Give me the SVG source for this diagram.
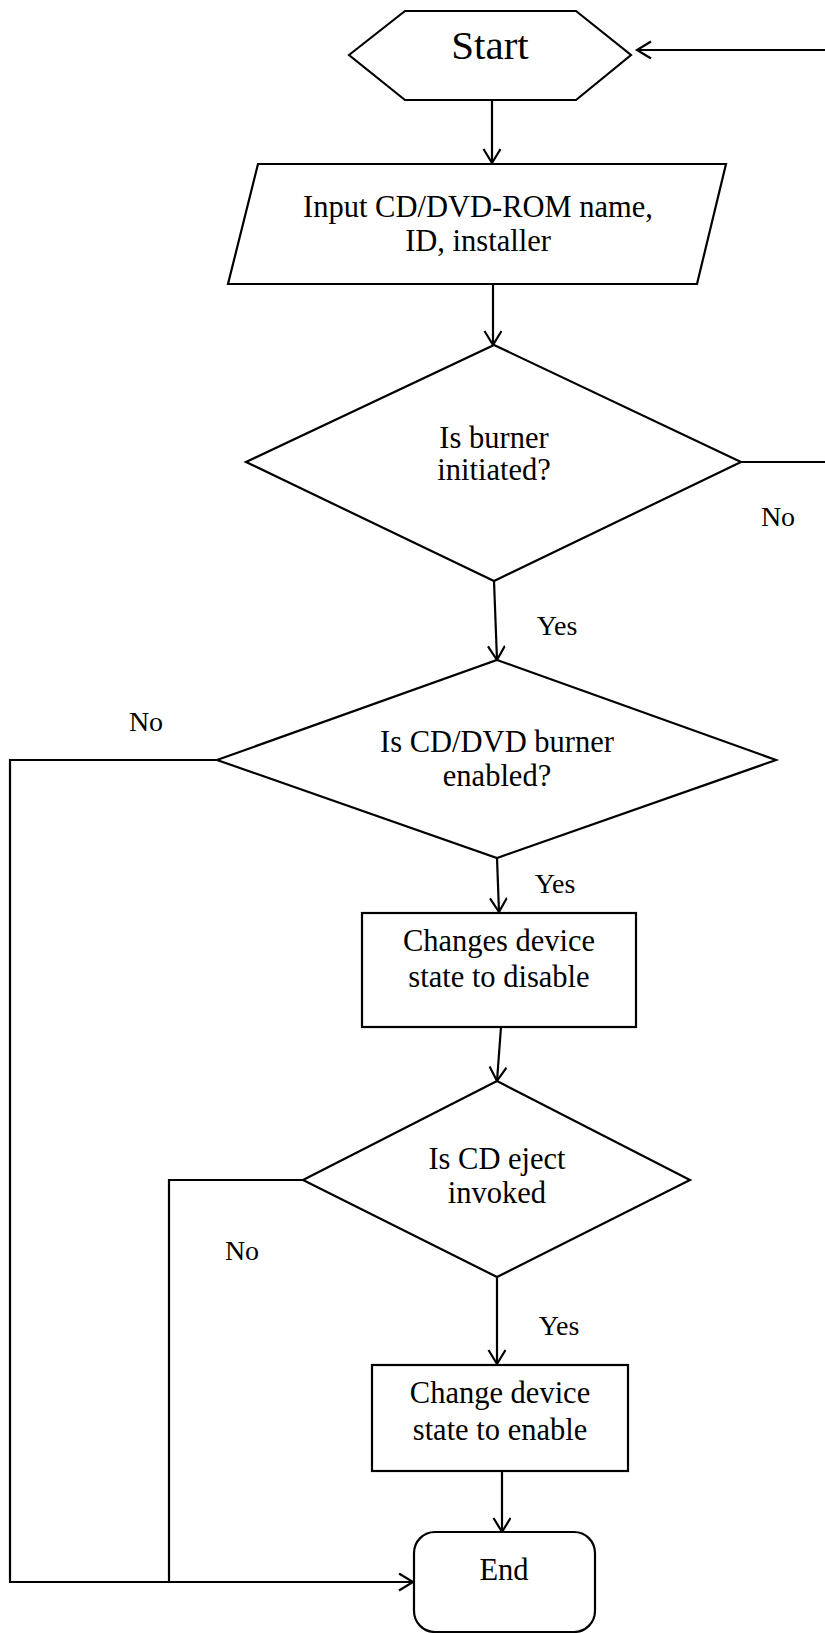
<svg xmlns="http://www.w3.org/2000/svg" width="825" height="1633" viewBox="0 0 825 1633">
<style>
.s{fill:#fff;stroke:#000;stroke-width:2.2}
.c{fill:none;stroke:#000;stroke-width:2.2}
text{font-family:"Liberation Serif","DejaVu Serif",serif;fill:#000;text-anchor:middle}
.t{font-size:30.5px}
.l{font-size:28px}
</style>
<defs>
<marker id="a" markerUnits="userSpaceOnUse" markerWidth="20" markerHeight="20" refX="15" refY="9" orient="auto" viewBox="0 0 20 20">
<path d="M1,0.5 L15,9 L1,17.5" fill="none" stroke="#000" stroke-width="2.2"/>
</marker>
</defs>
<rect width="825" height="1633" fill="#fff"/>
<g id="connectors">
<path class="c" d="M826,50 L637,50" marker-end="url(#a)"/>
<path class="c" d="M492,100 L492,163" marker-end="url(#a)"/>
<path class="c" d="M493,284 L493,345" marker-end="url(#a)"/>
<path class="c" d="M741,462 L826,462"/>
<path class="c" d="M494,581 L497,660" marker-end="url(#a)"/>
<path class="c" d="M217,760 L10,760 L10,1582 L413,1582" marker-end="url(#a)"/>
<path class="c" d="M497,858 L499,912" marker-end="url(#a)"/>
<path class="c" d="M501,1027 L497,1081" marker-end="url(#a)"/>
<path class="c" d="M303,1180 L169,1180 L169,1582"/>
<path class="c" d="M497,1277 L497,1364" marker-end="url(#a)"/>
<path class="c" d="M502,1471 L502,1532" marker-end="url(#a)"/>
<text class="l" x="778" y="526">No</text>
<text class="l" x="557" y="635">Yes</text>
<text class="l" x="146" y="731">No</text>
<text class="l" x="555" y="893">Yes</text>
<text class="l" x="242" y="1260">No</text>
<text class="l" x="559" y="1335">Yes</text>
</g>
<g id="start">
<polygon class="s" points="349,55 405,11 576,11 631,55 576,100 405,100"/>
<text x="490" y="59" style="font-size:41px">Start</text>
</g>
<g id="input">
<polygon class="s" points="258,164 726,164 697,284 228,284"/>
<text class="t" x="478" y="217">Input CD/DVD-ROM name,</text>
<text class="t" x="478" y="251">ID, installer</text>
</g>
<g id="decision1">
<polygon class="s" points="494,345 741,462 494,581 246,462"/>
<text class="t" x="494" y="448">Is burner</text>
<text class="t" x="494" y="480">initiated?</text>
</g>
<g id="decision2">
<polygon class="s" points="497,660 776,760 497,858 217,760"/>
<text class="t" x="497" y="752">Is CD/DVD burner</text>
<text class="t" x="497" y="786">enabled?</text>
</g>
<g id="disable">
<rect class="s" x="362" y="913" width="274" height="114"/>
<text class="t" x="499" y="951">Changes device</text>
<text class="t" x="499" y="987">state to disable</text>
</g>
<g id="decision3">
<polygon class="s" points="497,1081 690,1180 497,1277 303,1180"/>
<text class="t" x="497" y="1169">Is CD eject</text>
<text class="t" x="497" y="1203">invoked</text>
</g>
<g id="enable">
<rect class="s" x="372" y="1365" width="256" height="106"/>
<text class="t" x="500" y="1403">Change device</text>
<text class="t" x="500" y="1440">state to enable</text>
</g>
<g id="end">
<rect class="s" x="414" y="1532" width="181" height="100" rx="21" ry="21"/>
<text class="t" x="504" y="1580">End</text>
</g>
</svg>
